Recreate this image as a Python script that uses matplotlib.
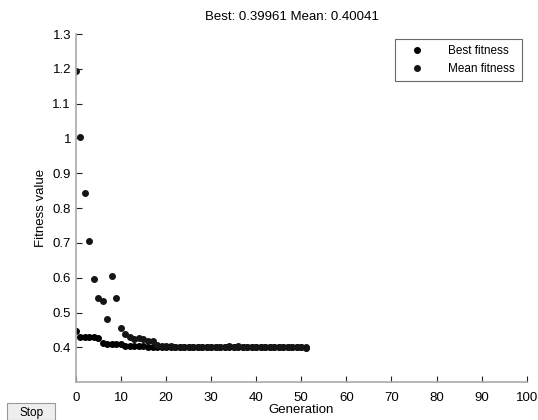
import matplotlib.pyplot as plt
from matplotlib.patches import FancyBboxPatch

plt.rcParams['font.family'] = ['Liberation Sans', 'DejaVu Sans']

# Mittelwert und Bestwert je Generation
generationen = list(range(52))
mean_fitness = [1.195, 1.005, 0.843, 0.706, 0.597, 0.543, 0.534, 0.482, 0.606, 0.543,
                0.455, 0.439, 0.429, 0.425, 0.427, 0.425, 0.419, 0.418, 0.407, 0.405,
                0.403, 0.403, 0.402, 0.402, 0.402, 0.401, 0.401, 0.401, 0.401, 0.401,
                0.401, 0.401, 0.401, 0.401, 0.403, 0.401, 0.403, 0.401, 0.401, 0.401,
                0.401, 0.401, 0.401, 0.401, 0.401, 0.401, 0.401, 0.401, 0.401, 0.401,
                0.401, 0.4004]
best_fitness = [0.446, 0.429, 0.429, 0.429, 0.429, 0.428, 0.412, 0.410, 0.410, 0.410,
                0.410, 0.405, 0.405, 0.405, 0.405, 0.404, 0.402, 0.401, 0.401, 0.401,
                0.400, 0.400, 0.400, 0.400, 0.400, 0.400, 0.400, 0.400, 0.400, 0.400,
                0.400, 0.400, 0.400, 0.400, 0.400, 0.400, 0.400, 0.400, 0.400, 0.400,
                0.400, 0.400, 0.400, 0.400, 0.400, 0.400, 0.400, 0.400, 0.400, 0.400,
                0.400, 0.3996]

y_ticks = [0.4, 0.5, 0.6, 0.7, 0.8, 0.9, 1.0, 1.1, 1.2, 1.3]
y_labels = ["0.4", "0.5", "0.6", "0.7", "0.8", "0.9", "1", "1.1", "1.2", "1.3"]
x_ticks = [0, 10, 20, 30, 40, 50, 60, 70, 80, 90, 100]

fig = plt.figure(figsize=(5.38, 4.20), dpi=100)
ax = fig.add_axes([0.141, 0.090, 0.838, 0.829])

ax.plot(generationen, best_fitness, 'o', color='black', markersize=4, label='Best fitness')
ax.plot(generationen, mean_fitness, 'o', color='#151515', markersize=4, label='Mean fitness')

ax.set_xlim(0, 100)
ax.set_ylim(0.3, 1.3)
ax.set_xticks(x_ticks)
ax.set_yticks(y_ticks)
ax.set_yticklabels(y_labels)
ax.tick_params(direction='in', length=4, width=0.8, color='#222222', labelsize=9.5)
ax.tick_params(axis='x', pad=7)
ax.tick_params(axis='y', pad=3.5)

for s in ['top', 'right']:
    ax.spines[s].set_visible(False)
for s in ['left', 'bottom']:
    ax.spines[s].set_color('#aaaaaa')
    ax.spines[s].set_linewidth(1.2)

ax.set_xlabel("Generation", fontsize=9.5, labelpad=0)
ax.set_ylabel("Fitness value", fontsize=9.5, labelpad=4)
ax.set_title("Best: 0.39961 Mean: 0.40041", fontsize=9.5, pad=10, x=0.48)

leg = ax.legend(loc='upper right', bbox_to_anchor=(0.989, 0.986), borderaxespad=0,
                frameon=True, fancybox=False, fontsize=8.5, handlelength=2.6,
                handletextpad=1.4, borderpad=0.55, labelspacing=0.45)
leg.get_frame().set_edgecolor('#444444')
leg.get_frame().set_linewidth(0.8)

# Stop-Knopf unten links
knopf = FancyBboxPatch((0.013, 0.0), 0.09, 0.041, boxstyle='square,pad=0',
                       transform=fig.transFigure, facecolor='#eeeeee', edgecolor='#999999',
                       linewidth=0.8)
fig.patches.append(knopf)
fig.text(0.058, 0.016, "Stop", ha='center', va='center', fontsize=8.5)

fig.savefig("out.png", dpi=100)
